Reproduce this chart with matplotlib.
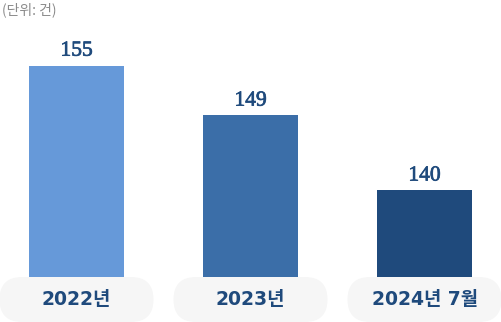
import matplotlib
matplotlib.use("Agg")
import matplotlib.pyplot as plt
import matplotlib.patheffects as pe
from matplotlib.patches import FancyBboxPatch

categories = ["2022년", "2023년", "2024년 7월"]
values = [155, 149, 140]
unit_label = "(단위: 건)"

bar_colors = ["#6699d9", "#3b6ea8", "#1f4a7c"]
text_color = "#1f4a7c"
pill_color = "#f6f6f6"

W, H = 502, 322
fig = plt.figure(figsize=(W / 100, H / 100), dpi=100)

px_per_unit = 174.0
x0 = 76.5
xlim = (-x0 / px_per_unit, (W - x0) / px_per_unit)

# bar axes
label_h = 45
ax = fig.add_axes([0, label_h / H, 1, 1 - label_h / H])
ax.set_xlim(*xlim)
ymin = 129.6
yscale = 8.325
ax.set_ylim(ymin, ymin + (H - label_h) / yscale)
xs = list(range(len(categories)))
ax.bar(xs, [v - ymin for v in values], bottom=ymin, width=95 / px_per_unit,
       color=bar_colors, zorder=2)
for x, v in zip(xs, values):
    ax.annotate(str(v), (x, v), xytext=(0, 3.5), textcoords="offset points",
                ha="center", va="bottom", fontsize=15.5,
                family="Liberation Serif", color=text_color,
                path_effects=[pe.withStroke(linewidth=0.5, foreground=text_color)])
ax.axis("off")

# label axes with pills
lax = fig.add_axes([0, 0, 1, label_h / H])
lax.set_xlim(*xlim)
lax.set_ylim(0, label_h / px_per_unit)
pill_w = 154 / px_per_unit
pill_h = label_h / px_per_unit
for x, c in zip(xs, categories):
    p = FancyBboxPatch((x - pill_w / 2, 0), pill_w, pill_h,
                       boxstyle=f"round,pad=0,rounding_size={pill_h/2}",
                       facecolor=pill_color, edgecolor="none")
    lax.add_patch(p)
    lax.text(x, pill_h / 2, c, ha="center", va="center", fontsize=13.5,
             fontweight="bold", family=["DejaVu Sans", "Noto Sans CJK KR"],
             color=text_color)
lax.axis("off")

fig.text(2 / W, 1 - 10 / H, unit_label, ha="left", va="center", fontsize=10,
         family=["Noto Sans CJK KR", "DejaVu Sans"], color="#8a8a8a")

fig.savefig("out.png", dpi=100)
